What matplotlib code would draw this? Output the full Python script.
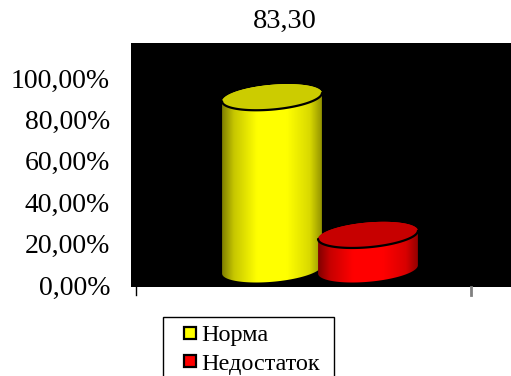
import numpy as np
import matplotlib
matplotlib.use("Agg")
import matplotlib.pyplot as plt
from matplotlib.patches import Polygon
from matplotlib.lines import Line2D
from matplotlib.colors import LinearSegmentedColormap

# Data
categories = ["Норма", "Недостаток"]
values = [83.30, 16.70]
bar_colors = [(1.0, 1.0, 0.0), (1.0, 0.0, 0.0)]
top_colors = [(0.80, 0.80, 0.0), (0.78, 0.0, 0.0)]
title_text = "83,30"
ytick_values = [0, 20, 40, 60, 80, 100]
ytick_labels = ["0,00%", "20,00%", "40,00%", "60,00%", "80,00%", "100,00%"]

SERIF = "Liberation Serif"

W, H = 511, 376
fig = plt.figure(figsize=(W / 100, H / 100), dpi=100)
fig.patch.set_facecolor("white")

ax = fig.add_axes([131 / W, 1 - 287 / H, 380 / W, (287 - 43) / H])
ax.set_facecolor("black")
for sp in ax.spines.values():
    sp.set_visible(False)
ax.set_xticks([])
ax.set_yticks(ytick_values)
ax.set_yticklabels(ytick_labels, fontfamily=SERIF, fontsize=20)
ax.tick_params(axis="y", length=0, pad=15)

# cylinder geometry (category units in x, percent in y)
floor = 7.5      # depth offset of the cylinder base
a = 0.52         # half width
b = 6.0          # half height of the elliptical caps
s = 2.0          # tilt of the caps


def ellipse(c, yc, t):
    return c + a * np.cos(t), yc + b * np.sin(t) + s * np.cos(t)


def shade_cmap(rgb):
    stops = [(0.0, 0.50), (0.12, 0.78), (0.35, 1.0), (0.65, 1.0),
             (0.88, 0.85), (1.0, 0.58)]
    cols = [(p, tuple(ch * k for ch in rgb)) for p, k in stops]
    return LinearSegmentedColormap.from_list("shade", cols)


for i, (v, col, tcol) in enumerate(zip(values, bar_colors, top_colors)):
    c = i
    top = floor + v
    t_front = np.linspace(np.pi, 2 * np.pi, 120)
    t_back = np.linspace(0, np.pi, 120)
    bx, by = ellipse(c, floor, t_front)
    tx, ty = ellipse(c, top, t_back)
    body_xy = np.column_stack([np.concatenate([bx, tx]), np.concatenate([by, ty])])
    body = Polygon(body_xy, closed=True, facecolor="none", edgecolor="none",
                   transform=ax.transData)
    ax.add_patch(body)
    grad = np.linspace(0, 1, 256).reshape(1, -1)
    im = ax.imshow(grad, cmap=shade_cmap(col), aspect="auto",
                   extent=[c - a, c + a, floor - b - s, top + b + s],
                   origin="lower", interpolation="bilinear", zorder=2 + i * 2)
    im.set_clip_path(body)

    t_all = np.linspace(0, 2 * np.pi, 240)
    ex, ey = ellipse(c, top, t_all)
    ax.add_patch(Polygon(np.column_stack([ex, ey]), closed=True, facecolor=tcol,
                         edgecolor="none", zorder=2.5 + i * 2))
    fx, fy = ellipse(c, top, t_front)
    ax.plot(fx, fy, color="black", lw=1.6, zorder=2.6 + i * 2,
            solid_capstyle="round")

ax.set_xlim(-1.469, 2.49)
ax.set_ylim(-1, 117)

# small category-axis ticks below the floor
ax.plot([5 / 380, 5 / 380], [0, -8 / 244], transform=ax.transAxes,
        color="black", lw=1, clip_on=False)
ax.plot([340 / 380, 340 / 380], [0, -8 / 244], transform=ax.transAxes,
        color="#808080", lw=2, clip_on=False)

fig.text(285 / W, 1 - 21 / H, title_text, ha="center", va="center",
         fontfamily=SERIF, fontsize=20.5)

handles = [Line2D([], [], linestyle="none", marker="s", markersize=8.3,
                  markerfacecolor=col, markeredgecolor="black",
                  markeredgewidth=1.6) for col in bar_colors]
leg = fig.legend(handles, categories, loc="upper left",
                 bbox_to_anchor=(163 / W, 0, 171 / W, 1 - 317 / H),
                 mode="expand", frameon=True, fancybox=False,
                 edgecolor="black", framealpha=1, borderaxespad=0,
                 borderpad=0.3, handlelength=1.6, handletextpad=-0.34,
                 labelspacing=0.26, prop={"family": SERIF, "size": 17.5})
leg.get_frame().set_linewidth(1.0)

fig.savefig("out.png", dpi=100, facecolor="white")
